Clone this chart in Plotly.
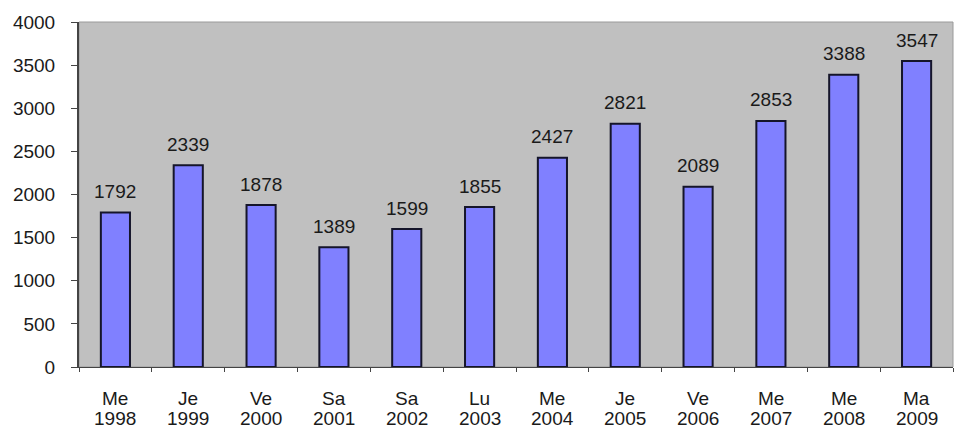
import plotly.graph_objects as go

days = ["Me", "Je", "Ve", "Sa", "Sa", "Lu", "Me", "Je", "Ve", "Me", "Me", "Ma"]
years = ["1998", "1999", "2000", "2001", "2002", "2003", "2004", "2005", "2006", "2007", "2008", "2009"]
values = [1792, 2339, 1878, 1389, 1599, 1855, 2427, 2821, 2089, 2853, 3388, 3547]
y_ticks = [0, 500, 1000, 1500, 2000, 2500, 3000, 3500, 4000]

cats = [f"{d} {y}" for d, y in zip(days, years)]
FONT = "Liberation Sans, Arial, sans-serif"
TXT = "#1a1a1a"

fig = go.Figure(go.Bar(
    x=cats, y=values,
    marker=dict(color="#8080FF", line=dict(color="#15152a", width=2)),
    width=0.4,
    hoverinfo="x+y",
))

annotations = []
for c, v, d, y in zip(cats, values, days, years):
    annotations.append(dict(x=c, y=v, xref="x", yref="y", text=str(v), showarrow=False,
                            yanchor="middle", yshift=21,
                            font=dict(family=FONT, size=19, color=TXT)))
    annotations.append(dict(x=c, y=0, xref="x", yref="paper", text=d, showarrow=False,
                            yanchor="middle", yshift=-31,
                            font=dict(family=FONT, size=19, color=TXT)))
    annotations.append(dict(x=c, y=0, xref="x", yref="paper", text=y, showarrow=False,
                            yanchor="middle", yshift=-51,
                            font=dict(family=FONT, size=19, color=TXT)))

# page body has an 8px default margin, so the figure is sized/offset to compensate
fig.update_layout(
    width=954, height=422,
    margin=dict(l=71, r=9, t=14, b=63),
    paper_bgcolor="white", plot_bgcolor="#C0C0C0",
    font=dict(family=FONT, size=19, color=TXT),
    showlegend=False,
    annotations=annotations,
)
fig.update_xaxes(
    automargin=False, showticklabels=False,
    tickson="boundaries", ticks="outside", ticklen=4, tickcolor="#444", tickwidth=1,
    showline=True, linecolor="#444", linewidth=1,
    showgrid=False,
)
fig.update_yaxes(
    automargin=False,
    range=[0, 4000], tickvals=y_ticks, ticks="outside", ticklen=6, tickcolor="#444",
    ticklabelstandoff=12,
    showline=True, linecolor="#444", linewidth=2, showgrid=False, zeroline=False,
    tickfont=dict(family=FONT, size=19, color=TXT),
)
fig.add_shape(type="rect", xref="paper", yref="paper", x0=0, x1=1, y0=0, y1=1,
              line=dict(color="#9a9a9a", width=1), fillcolor="rgba(0,0,0,0)", layer="below")

fig.write_html("out.html")
